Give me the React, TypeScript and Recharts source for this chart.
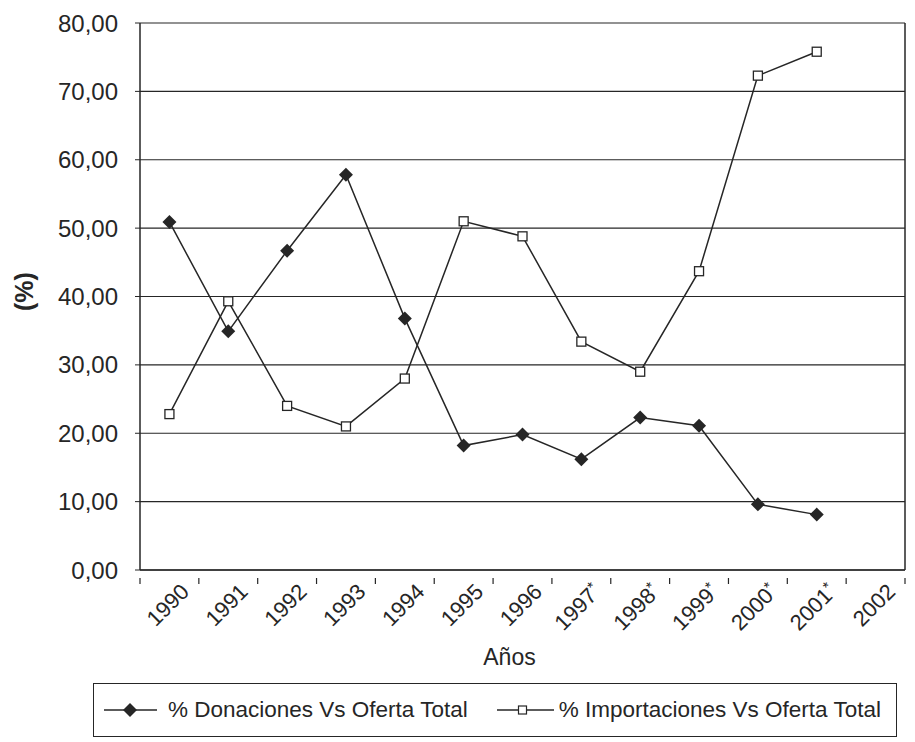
import { CartesianGrid, Legend, Line, LineChart, XAxis, YAxis } from "recharts";

const years = ["1990", "1991", "1992", "1993", "1994", "1995", "1996", "1997*", "1998*", "1999*", "2000*", "2001*", "2002"];
const donaciones = [50.9, 34.9, 46.7, 57.8, 36.8, 18.2, 19.8, 16.2, 22.3, 21.1, 9.6, 8.1, null];
const importaciones = [22.8, 39.3, 24.0, 21.0, 28.0, 51.0, 48.8, 33.4, 29.0, 43.7, 72.3, 75.8, null];
const yTicks = [0, 10, 20, 30, 40, 50, 60, 70, 80];

const data = years.map((year, i) => ({
  year,
  don: donaciones[i],
  imp: importaciones[i],
}));

const FONT = "'Liberation Sans', Arial, Helvetica, sans-serif";
const INK = "#262626";
const W = 915;
const H = 742;
const PLOT_LEFT = 140;
const PLOT_RIGHT = 905;
const BAND = (PLOT_RIGHT - PLOT_LEFT) / years.length;

const fmt = (v: number) => v.toFixed(2).replace(".", ",");

function DiamondDot({ cx, cy }: any) {
  if (cx == null || cy == null) return null;
  const r = 7;
  return (
    <polygon
      points={`${cx},${cy - r} ${cx + r},${cy} ${cx},${cy + r} ${cx - r},${cy}`}
      fill={INK}
    />
  );
}

function SquareDot({ cx, cy }: any) {
  if (cx == null || cy == null) return null;
  return (
    <rect x={cx - 4.5} y={cy - 4.5} width={9} height={9} fill="#fff" stroke={INK} strokeWidth={1.3} />
  );
}

function YearTick({ x, y, payload, index }: any) {
  const left = x - BAND / 2;
  const right = x + BAND / 2;
  const label: string = payload.value;
  const star = label.endsWith("*");
  const ax = x + 21;
  const ay = y + 15;
  return (
    <g>
      <line x1={left} y1={y} x2={left} y2={y + 6} stroke={INK} strokeWidth={1.2} />
      {index === years.length - 1 && (
        <line x1={right} y1={y} x2={right} y2={y + 6} stroke={INK} strokeWidth={1.2} />
      )}
      <text
        x={ax}
        y={ay}
        transform={`rotate(-45, ${ax}, ${ay})`}
        textAnchor="end"
        fontFamily={FONT}
        fontSize={22}
        fill={INK}
      >
        {star ? label.slice(0, -1) : label}
        {star && (
          <tspan fontSize={15} dy={-7}>
            *
          </tspan>
        )}
      </text>
    </g>
  );
}

function PctLabel({ viewBox }: any) {
  const cx = 24;
  const cy = viewBox.y + viewBox.height / 2 - 5;
  return (
    <text
      x={cx}
      y={cy}
      transform={`rotate(-90, ${cx}, ${cy})`}
      textAnchor="middle"
      dominantBaseline="central"
      fontFamily={FONT}
      fontSize={25}
      fontWeight="bold"
      fill={INK}
    >
      (%)
    </text>
  );
}

function AnosLabel({ viewBox }: any) {
  return (
    <text
      x={viewBox.x + viewBox.width / 2 - 13}
      y={viewBox.y + 95}
      textAnchor="middle"
      fontFamily={FONT}
      fontSize={23}
      fill={INK}
    >
      Años
    </text>
  );
}

function LegendBox() {
  return (
    <div
      style={{
        marginLeft: 93,
        width: 804,
        height: 54,
        boxSizing: "border-box",
        border: `1px solid ${INK}`,
        display: "flex",
        alignItems: "center",
        paddingLeft: 10,
        fontFamily: FONT,
        fontSize: 22.5,
        color: INK,
      }}
    >
      <svg width={53} height={16}>
        <line x1={0} y1={8} x2={53} y2={8} stroke={INK} strokeWidth={1.5} />
        <polygon points="26,1 33,8 26,15 19,8" fill={INK} />
      </svg>
      <span style={{ marginLeft: 11 }}>% Donaciones Vs Oferta Total</span>
      <svg width={57} height={16} style={{ marginLeft: 29 }}>
        <line x1={0} y1={8} x2={57} y2={8} stroke={INK} strokeWidth={1.5} />
        <rect x={21.5} y={4} width={8} height={8} fill="#fff" stroke={INK} strokeWidth={1.2} />
      </svg>
      <span style={{ marginLeft: 5 }}>% Importaciones Vs Oferta Total</span>
    </div>
  );
}

export default function App() {
  return (
    <div style={{ position: "absolute", left: 0, top: 0, width: W, height: H, background: "#fff" }}>
      <LineChart width={W} height={H} data={data} margin={{ top: 23, right: 0, bottom: 5, left: 0 }}>
        <CartesianGrid vertical={false} stroke={INK} strokeWidth={1.2} />
        <XAxis
          dataKey="year"
          scale="band"
          height={113}
          interval={0}
          tickLine={false}
          axisLine={{ stroke: INK, strokeWidth: 1.5 }}
          tick={<YearTick />}
          label={<AnosLabel />}
        />
        <YAxis
          domain={[0, 80]}
          ticks={yTicks}
          width={PLOT_LEFT}
          tickSize={5}
          tickMargin={17}
          tickFormatter={fmt}
          axisLine={{ stroke: INK, strokeWidth: 1.5 }}
          tickLine={{ stroke: INK }}
          tick={{ fontFamily: FONT, fontSize: 24, fill: INK }}
          label={<PctLabel />}
        />
        <YAxis
          yAxisId="right"
          orientation="right"
          domain={[0, 80]}
          width={W - PLOT_RIGHT}
          tick={false}
          tickLine={false}
          axisLine={{ stroke: INK, strokeWidth: 1.5 }}
        />
        <Legend verticalAlign="bottom" content={<LegendBox />} />
        <Line
          dataKey="don"
          name="% Donaciones Vs Oferta Total"
          stroke={INK}
          strokeWidth={1.5}
          dot={<DiamondDot />}
          activeDot={false}
          isAnimationActive={false}
        />
        <Line
          dataKey="imp"
          name="% Importaciones Vs Oferta Total"
          stroke={INK}
          strokeWidth={1.5}
          dot={<SquareDot />}
          activeDot={false}
          isAnimationActive={false}
        />
      </LineChart>
    </div>
  );
}
